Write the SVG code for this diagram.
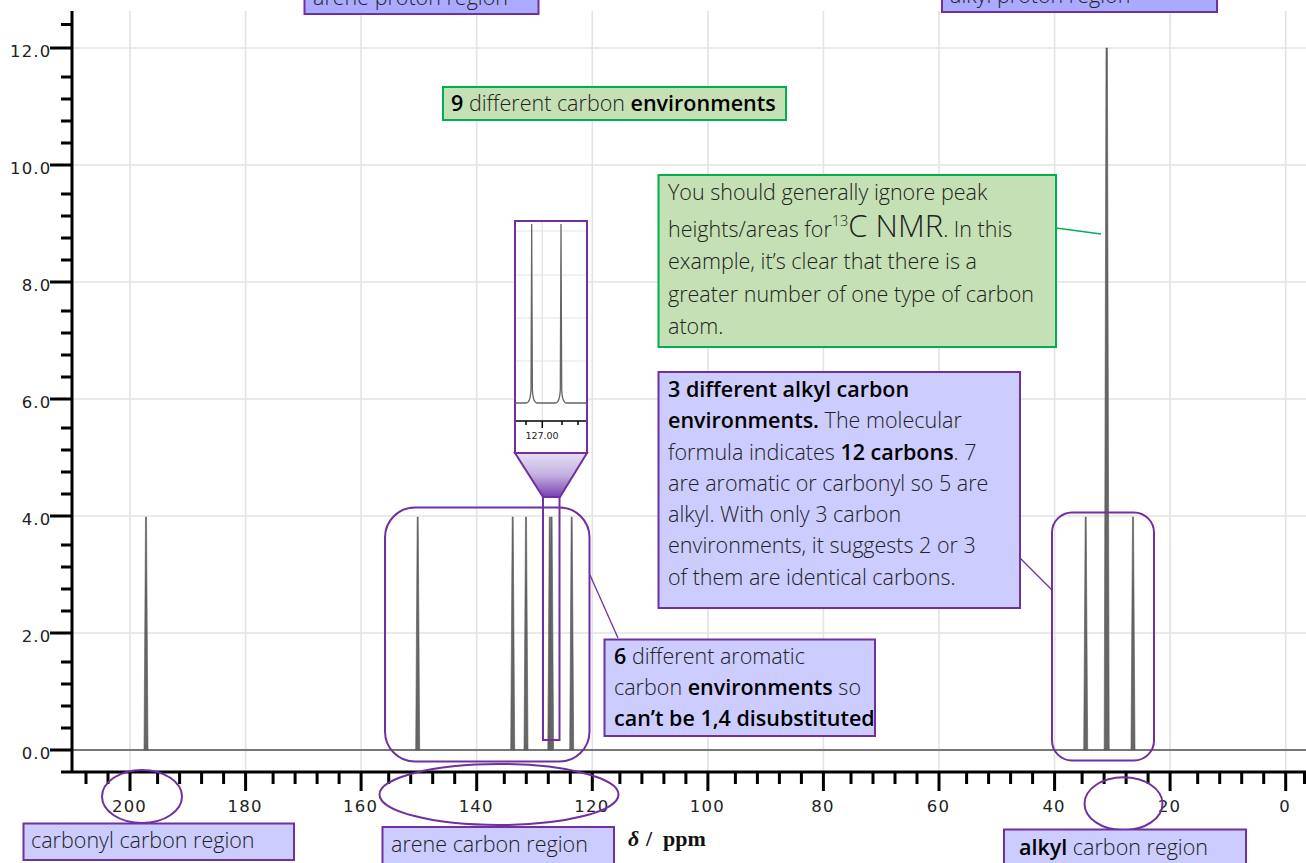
<svg xmlns="http://www.w3.org/2000/svg" width="1306" height="863" viewBox="0 0 1306 863">
<style>
.grid{stroke:#e3e3e3;stroke-width:1.6;fill:none}
.axis{stroke:#000;stroke-width:3;fill:none}
.tick{stroke:#000;stroke-width:3;fill:none}
.num{font-family:"DejaVu Sans",Verdana,sans-serif;font-size:16.5px;fill:#222;letter-spacing:1.2px}
.pk{fill:#666;stroke:#555;stroke-width:0.6}
.hl{fill:none;stroke:#7030a0;stroke-width:2}
.pbox{fill:#ccccff;stroke:#7030a0;stroke-width:2}
.dbox{fill:#aaaaff;stroke:#7030a0;stroke-width:2}
.gbox{fill:#c5e0b4;stroke:#00b050;stroke-width:2}
.t{font-family:"Open Sans","Liberation Sans",Arial,sans-serif;font-size:21.5px;font-weight:300;fill:#222}
.b{font-weight:600;fill:#000}
.conn{fill:none;stroke-width:1.3}
</style>
<defs>
<linearGradient id="fun" x1="0" y1="0" x2="0" y2="1">
<stop offset="0" stop-color="#e6e0f2"/>
<stop offset="0.5" stop-color="#c4b0e0"/>
<stop offset="1" stop-color="#7a40b0"/>
</linearGradient>
</defs>
<rect x="0" y="0" width="1306" height="863" fill="#fff"/>
<g id="grid">
<path class="grid" d="M130,11V772M245.6,11V772M361.1,11V772M476.7,11V772M592.3,11V772M707.9,11V772M823.4,11V772M939,11V772M1054.6,11V772M1170.1,11V772M1285.7,11V772"/>
<path class="grid" d="M72,48H1306M72,165H1306M72,282H1306M72,399H1306M72,516H1306M72,633H1306"/>
</g>
<g id="spectrum">
<path d="M72,750H1306" stroke="#777" stroke-width="2" fill="none"/>
<polygon class="pk" points="144,750 145.5,517 146.5,517 148,750"/>
<polygon class="pk" points="415.7,750 417.2,517 418.2,517 419.7,750"/>
<polygon class="pk" points="510.7,750 512.2,517 513.2,517 514.7,750"/>
<polygon class="pk" points="524,750 525.5,517 526.5,517 528,750"/>
<polygon class="pk" points="547.8,750 549.3,517 550.3,517 551.8,750"/>
<polygon class="pk" points="549.6,750 551.1,517 552.1,517 553.6,750"/>
<polygon class="pk" points="569.7,750 571.2,517 572.2,517 573.7,750"/>
<polygon class="pk" points="1083.7,750 1085.2,517 1086.2,517 1087.7,750"/>
<polygon class="pk" points="1104.2,750 1106,48 1107.4,48 1109.2,750"/>
<polygon class="pk" points="1131,750 1132.5,517 1133.5,517 1135,750"/>
</g>
<g id="axes">
<path class="axis" d="M72,11V773M61,772H1306"/>
<path class="tick" d="M50,750H72M50,633H72M50,516H72M50,399H72M50,282H72M50,165H72M50,48H72"/>
<path class="tick" d="M61,728H72M61,706H72M61,684H72M61,662H72M61,611H72M61,589H72M61,567H72M61,545H72M61,494H72M61,472H72M61,450H72M61,428H72M61,377H72M61,355H72M61,333H72M61,311H72M61,260H72M61,238H72M61,216H72M61,194H72M61,143H72M61,121H72M61,99H72M61,77H72M61,24.5H72"/>
<path class="tick" d="M130,772V791M245.6,772V791M361.1,772V791M476.7,772V791M592.3,772V791M707.9,772V791M823.4,772V791M939,772V791M1054.6,772V791M1170.1,772V791M1285.7,772V791"/>
<path class="tick" d="M86,772V784M108,772V784M157.6,772V784M179.6,772V784M201.6,772V784M223.6,772V784M273.1,772V784M295.1,772V784M317.1,772V784M339.1,772V784M388.7,772V784M410.7,772V784M432.7,772V784M454.7,772V784M504.3,772V784M526.3,772V784M548.3,772V784M570.3,772V784M619.9,772V784M641.9,772V784M663.9,772V784M685.9,772V784M735.4,772V784M757.4,772V784M779.4,772V784M801.4,772V784M851,772V784M873,772V784M895,772V784M917,772V784M966.6,772V784M988.6,772V784M1010.6,772V784M1032.6,772V784M1082.1,772V784M1104.1,772V784M1126.1,772V784M1148.1,772V784M1197.7,772V784M1219.7,772V784M1241.7,772V784M1263.7,772V784M1304.5,772V784"/>
<g class="num" text-anchor="end">
<text x="51.5" y="759">0.0</text>
<text x="51.5" y="642">2.0</text>
<text x="51.5" y="525">4.0</text>
<text x="51.5" y="408">6.0</text>
<text x="51.5" y="291">8.0</text>
<text x="51.5" y="174">10.0</text>
<text x="51.5" y="57">12.0</text>
</g>
<g class="num" text-anchor="middle">
<text x="129.5" y="812">200</text>
<text x="245.1" y="812">180</text>
<text x="360.6" y="812">160</text>
<text x="476.2" y="812">140</text>
<text x="591.8" y="812">120</text>
<text x="707.4" y="812">100</text>
<text x="822.9" y="812">80</text>
<text x="938.5" y="812">60</text>
<text x="1054.1" y="812">40</text>
<text x="1169.6" y="812">20</text>
<text x="1285.2" y="812">0</text>
</g>
<text x="628" y="846" font-family="'Liberation Serif','Times New Roman',serif" font-size="22" font-weight="bold" fill="#111"><tspan font-style="italic">δ</tspan><tspan x="646">/</tspan><tspan x="663">ppm</tspan></text>
</g>
<g id="inset">
<rect x="515" y="221" width="72" height="232" fill="#fff"/>
<path d="M542.3,222V420M516,231H586M516,275H586M516,318H586M516,361H586" stroke="#e3e3e3" stroke-width="1.2" fill="none"/>
<path d="M516,403H526C529,403 530.6,399 531,390L531.7,224L532.4,390C532.8,399 534.4,403 537.4,403H555.3C558.3,403 559.9,399 560.3,390L561,224L561.7,390C562.1,399 563.7,403 566.7,403H586" stroke="#666" stroke-width="1.3" fill="none"/>
<path d="M516,421H586M542.3,421V428M526,421V425M562,421V425M578,421V425" stroke="#000" stroke-width="1.5" fill="none"/>
<text x="542" y="439" font-family="'DejaVu Sans',Verdana,sans-serif" font-size="9.5" text-anchor="middle" fill="#222">127.00</text>
<rect class="hl" x="515" y="221" width="72" height="232"/>
<polygon points="515,453 587,453 560,497 543,497" fill="url(#fun)" stroke="#7030a0" stroke-width="2"/>
<rect class="hl" x="543" y="497" width="16.5" height="243"/>
</g>
<g id="highlights">
<rect id="arene-group" class="hl" x="385" y="507.5" width="204.5" height="254" rx="30"/>
<rect id="alkyl-group" class="hl" x="1052" y="512.5" width="102" height="248" rx="20"/>
<ellipse id="carbonyl-ellipse" class="hl" cx="142" cy="796.5" rx="40" ry="26.5"/>
<ellipse id="arene-ellipse" class="hl" cx="499" cy="794.5" rx="119.5" ry="30.5"/>
<ellipse id="alkyl-ellipse" class="hl" cx="1123.5" cy="803.7" rx="39" ry="26.5"/>
</g>
<g id="connectors">
<path class="conn" stroke="#00b050" d="M1056,228L1101,234"/>
<path class="conn" stroke="#7030a0" d="M590,575L618,638"/>
<path class="conn" stroke="#7030a0" d="M1020,558L1052,590"/>
</g>
<g id="arene-proton-label">
<rect class="dbox" x="304.5" y="-20" width="234" height="34"/>
<text class="t" x="313" y="5">arene proton region</text>
</g>
<g id="alkyl-proton-label">
<rect class="dbox" x="942" y="-20" width="275" height="32"/>
<text class="t" x="950" y="3">alkyl proton region</text>
</g>
<g id="carbon-env-note">
<rect class="gbox" x="443" y="87" width="343" height="33"/>
<text class="t" x="451" y="111"><tspan class="b">9</tspan> different carbon <tspan class="b">environments</tspan></text>
</g>
<g id="peak-height-note">
<rect class="gbox" x="658.5" y="175" width="397.5" height="172"/>
<text class="t" x="668" y="200">You should generally ignore peak</text>
<text class="t" x="668" y="237">heights/areas for<tspan font-size="14.5" dy="-11">13</tspan><tspan font-size="31" dy="11">C NMR</tspan>. In this</text>
<text class="t" x="668" y="269">example, it’s clear that there is a</text>
<text class="t" x="668" y="302">greater number of one type of carbon</text>
<text class="t" x="668" y="334">atom.</text>
</g>
<g id="alkyl-note">
<rect class="pbox" x="658.5" y="372" width="361.5" height="236"/>
<text class="t" x="668" y="397"><tspan class="b">3 different alkyl carbon</tspan></text>
<text class="t" x="668" y="428"><tspan class="b">environments.</tspan> The molecular</text>
<text class="t" x="668" y="460">formula indicates <tspan class="b">12 carbons</tspan>. 7</text>
<text class="t" x="668" y="491">are aromatic or carbonyl so 5 are</text>
<text class="t" x="668" y="522">alkyl. With only 3 carbon</text>
<text class="t" x="668" y="553">environments, it suggests 2 or 3</text>
<text class="t" x="668" y="585">of them are identical carbons.</text>
</g>
<g id="aromatic-note">
<rect class="pbox" x="604.5" y="639.5" width="270.5" height="96.5"/>
<text class="t" x="614" y="664"><tspan class="b">6</tspan> different aromatic</text>
<text class="t" x="614" y="695">carbon <tspan class="b">environments</tspan> so</text>
<text class="t" x="614" y="726"><tspan class="b">can’t be 1,4 disubstituted</tspan></text>
</g>
<g id="carbonyl-label">
<rect class="pbox" x="23.5" y="823.5" width="270.5" height="36.5"/>
<text class="t" x="31" y="848">carbonyl carbon region</text>
</g>
<g id="arene-label">
<rect class="pbox" x="382.5" y="827" width="231.5" height="45"/>
<text class="t" x="391" y="852">arene carbon region</text>
</g>
<g id="alkyl-label">
<rect class="pbox" x="1004" y="829.5" width="242" height="45"/>
<text class="t" x="1019" y="855"><tspan class="b">alkyl</tspan> carbon region</text>
</g>
</svg>
